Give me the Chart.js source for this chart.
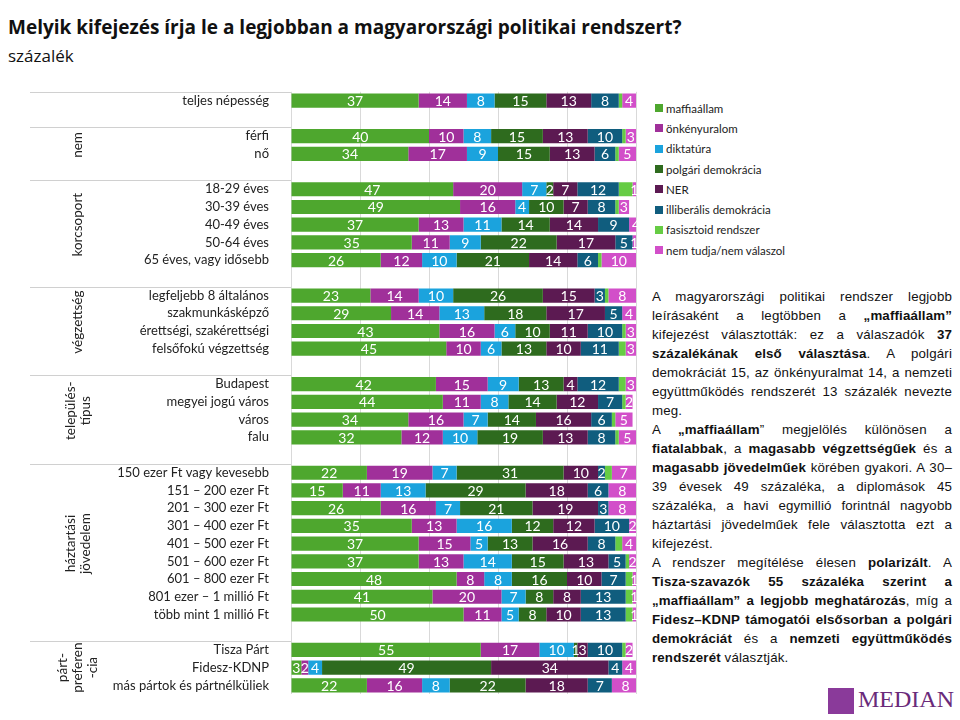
<!DOCTYPE html>
<html><head><meta charset="utf-8">
<script src="https://cdn.jsdelivr.net/npm/chart.js@4/dist/chart.umd.min.js"></script>
<style>
body{margin:0;width:960px;height:720px;background:#fff;font-family:"Open Sans",Lato,sans-serif;position:relative;overflow:hidden}
#t{position:absolute;left:8px;top:14px;font-size:19px;font-weight:bold;color:#111;font-family:"Open Sans"}
#s{position:absolute;left:8px;top:44px;font-size:17px;color:#111}
#wrap{position:absolute;left:0;top:70px;width:645px;height:646px}
#leg{position:absolute;left:655px;top:98px;font-size:11.5px;color:#222;font-family:Lato}
#leg div{height:20.3px;display:flex;align-items:center}
#leg span{display:inline-block;width:8px;height:8px;margin-right:3px}
#txt{position:absolute;left:652px;top:287px;width:300px;font-size:13.3px;letter-spacing:0.15px;line-height:19px;text-align:justify;color:#111;font-family:"Liberation Sans"}
#logo{position:absolute;left:828px;top:686px;color:#6a2a7a;font-family:"Liberation Serif";font-size:24px;font-weight:normal}
#logo b{display:inline-block;width:26px;height:26px;background:#8a3a9a;vertical-align:middle;margin-right:4px}
</style></head><body>
<div id="t">Melyik kifejezés írja le a legjobban a magyarországi politikai rendszert?</div>
<div id="s">százalék</div>
<div id="wrap"><canvas id="c"></canvas></div>
<div id="leg"></div>
<div id="txt">A magyarországi politikai rendszer legjobb leírásaként a legtöbben a <b>„maffiaállam”</b> kifejezést választották: ez a válaszadók <b>37 százalékának első választása</b>. A polgári demokráciát 15, az önkényuralmat 14, a nemzeti együttműködés rendszerét 13 százalék nevezte meg.<br>A <b>„maffiaállam</b>” megjelölés különösen a <b>fiatalabbak</b>, a <b>magasabb végzettségűek</b> és a <b>magasabb jövedelműek</b> körében gyakori. A 30–39 évesek 49 százaléka, a diplomások 45 százaléka, a havi egymillió forintnál nagyobb háztartási jövedelműek fele választotta ezt a kifejezést.<br>A rendszer megítélése élesen <b>polarizált</b>. A <b>Tisza-szavazók 55 százaléka szerint a „maffiaállam” a legjobb meghatározás</b>, míg a <b>Fidesz–KDNP támogatói elsősorban a polgári demokráciát</b> és a <b>nemzeti együttműködés rendszerét</b> választják.</div>
<div id="logo"><b></b>MEDIAN</div>
<script>
const categories=["teljes népesség","","férfi","nő","","18-29 éves","30-39 éves","40-49 éves","50-64 éves","65 éves, vagy idősebb","","legfeljebb 8 általános","szakmunkásképző","érettségi, szakérettségi","felsőfokú végzettség","","Budapest","megyei jogú város","város","falu","","150 ezer Ft vagy kevesebb","151 – 200 ezer Ft","201 – 300 ezer Ft","301 – 400 ezer Ft","401 – 500 ezer Ft","501 – 600 ezer Ft","601 – 800 ezer Ft","801 ezer – 1 millió Ft","több mint 1 millió Ft","","Tisza Párt","Fidesz-KDNP","más pártok és pártnélküliek"];
const maffiaallam=[37,null,40,34,null,47,49,37,35,26,null,23,29,43,45,null,42,44,34,32,null,22,15,26,35,37,37,48,41,50,null,55,3,22];
const onkenyuralom=[14,null,10,17,null,20,16,13,11,12,null,14,14,16,10,null,15,11,16,12,null,19,11,16,13,15,13,8,20,11,null,17,2,16];
const diktatura=[8,null,8,9,null,7,4,11,9,10,null,10,13,6,6,null,9,8,7,10,null,7,13,7,16,5,14,8,7,5,null,10,4,8];
const polgari=[15,null,15,15,null,2,10,14,22,21,null,26,18,10,13,null,13,14,14,19,null,31,29,21,12,13,15,16,8,8,null,1,49,22];
const ner=[13,null,13,13,null,7,7,14,17,14,null,15,17,11,10,null,4,12,16,13,null,10,18,19,12,16,13,10,8,10,null,3,34,18];
const illiberalis=[8,null,10,6,null,12,8,9,5,6,null,3,5,10,11,null,12,7,6,8,null,2,6,3,10,8,5,7,13,13,null,10,4,7];
const fasisztoid=[1,null,1,1,null,4,1,0,0,1,null,1,0,1,2,null,2,1,1,1,null,2,0,0,0,2,1,2,2,2,null,1,0,0];
const nemtudja=[4,null,3,5,null,1,3,4,1,10,null,8,4,3,3,null,3,2,5,5,null,7,8,8,2,4,2,1,1,1,null,2,4,8];
const seriesNames=["maffiaállam","önkényuralom","diktatúra","polgári demokrácia","NER","illiberális demokrácia","fasisztoid rendszer","nem tudja/nem válaszol"];
const groups=[["",0,0],["nem",2,3],["korcsoport",5,9],["végzettség",11,14],["település-\ntípus",16,19],["háztartási\njövedelem",21,29],["párt-\npreferen\n-cia",31,33]];
const colors=["#4ea72e","#a0309a","#1ba3dd","#2e6b1e","#5c1a52","#105d7e","#66cc44","#d24fc9"];
const data=[maffiaallam,onkenyuralom,diktatura,polgari,ner,illiberalis,fasisztoid,nemtudja];
document.getElementById('leg').innerHTML=seriesNames.map((n,i)=>`<div><span style="background:${colors[i]}"></span>${n}</div>`).join('');
const deco={id:'deco',afterDraw(ch){const c=ch.ctx,y=ch.scales.y;const half=(y.getPixelForValue(1)-y.getPixelForValue(0))/2;
 c.save();c.strokeStyle='#d0d0d0';c.lineWidth=1;
 groups.forEach((g,i)=>{const top=y.getPixelForValue(g[1])-half;c.beginPath();c.moveTo(30,Math.round(top)+0.5);c.lineTo(291,Math.round(top)+0.5);c.stroke();
 if(g[0]){const bot=y.getPixelForValue(g[2])+half;const mid=(top+bot)/2;const lines=g[0].split('\n');c.save();c.translate(78,mid);c.rotate(-Math.PI/2);c.fillStyle='#222';c.font='13.5px Lato';c.textAlign='center';c.textBaseline='middle';
 lines.forEach((l,k)=>c.fillText(l,0,(k-(lines.length-1)/2)*15));c.restore();}});
 c.font='14px Lato';c.textAlign='center';c.textBaseline='middle';
 ch.data.datasets.forEach((ds,di)=>{if(di===6)return;const m=ch.getDatasetMeta(di);m.data.forEach((b,j)=>{const v=ds.data[j];if(!v)return;c.fillStyle='#fff';c.fillText(String(v),(b.x+b.base)/2,b.y+1);});});
 c.restore();}};
new Chart(document.getElementById('c'),{type:'bar',data:{labels:categories,datasets:data.map((d,i)=>({label:seriesNames[i],data:d,backgroundColor:colors[i],categoryPercentage:0.8,barPercentage:1}))},
options:{indexAxis:'y',responsive:true,maintainAspectRatio:false,animation:false,layout:{padding:{top:6,bottom:5,right:9}},
plugins:{legend:{display:false},tooltip:{enabled:false}},
scales:{x:{stacked:true,min:0,max:100,ticks:{display:false,stepSize:20},grid:{color:'#d9d9d9',drawTicks:false},border:{display:false}},
y:{stacked:true,grid:{display:false},border:{display:false},ticks:{color:'#222',font:{size:13,family:'Lato'},padding:14,autoSkip:false},afterFit(s){s.width=291;}}}},plugins:[deco]});
</script></body></html>
